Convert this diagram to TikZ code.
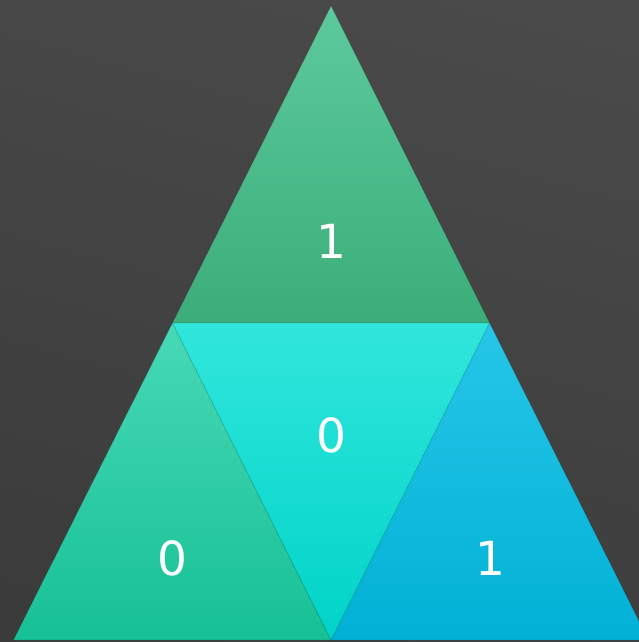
\documentclass[tikz,border=0pt]{standalone}
\usepackage{fontspec}
\setmainfont{DejaVu Sans}
\usetikzlibrary{positioning}

\definecolor{bgtop}{HTML}{4A4A4A}
\definecolor{bgbot}{HTML}{3B3B3B}
\definecolor{topA}{HTML}{5DCA9D}
\definecolor{topB}{HTML}{3BAD7A}
\definecolor{midA}{HTML}{31E6DC}
\definecolor{midB}{HTML}{00D3C8}
\definecolor{leftA}{HTML}{47D9B6}
\definecolor{leftB}{HTML}{17C095}
\definecolor{rightA}{HTML}{26C6E8}
\definecolor{rightB}{HTML}{01B1D5}

\begin{document}
\begin{tikzpicture}[x=1pt, y=-1pt,
  tri/.style={draw=black, draw opacity=0.12, line width=0.6pt},
  digit/.style={text=white, inner sep=0pt, font=\fontsize{47}{47}\selectfont}]
  \clip (0,0) rectangle (639,642);
  \shade[top color=bgtop, bottom color=bgbot, shading angle=-15] (-40,-40) rectangle (680,680);

  % corners of the big triangle and the mid points
  \coordinate (apex) at (331,6);
  \coordinate (ml) at (172.5,323);
  \coordinate (mr) at (489.5,323);
  \coordinate (bl) at (13.5,640);
  \coordinate (bm) at (331,640);
  \coordinate (br) at (648.5,640);

  \shade[tri, top color=topA, bottom color=topB] (apex) -- (mr) -- (ml) -- cycle;
  \shade[tri, top color=leftA, bottom color=leftB] (ml) -- (bm) -- (bl) -- cycle;
  \shade[tri, top color=rightA, bottom color=rightB] (mr) -- (br) -- (bm) -- cycle;
  \shade[tri, top color=midA, bottom color=midB] (ml) -- (mr) -- (bm) -- cycle;

  \node[digit] (topd) at (331,241) {1};
  \node[digit] (midd) at (331,435) {0};
  \node[digit] (leftd) at (172,558) {0};
  \node[digit] (rightd) at (490,558) {1};
\end{tikzpicture}
\end{document}
